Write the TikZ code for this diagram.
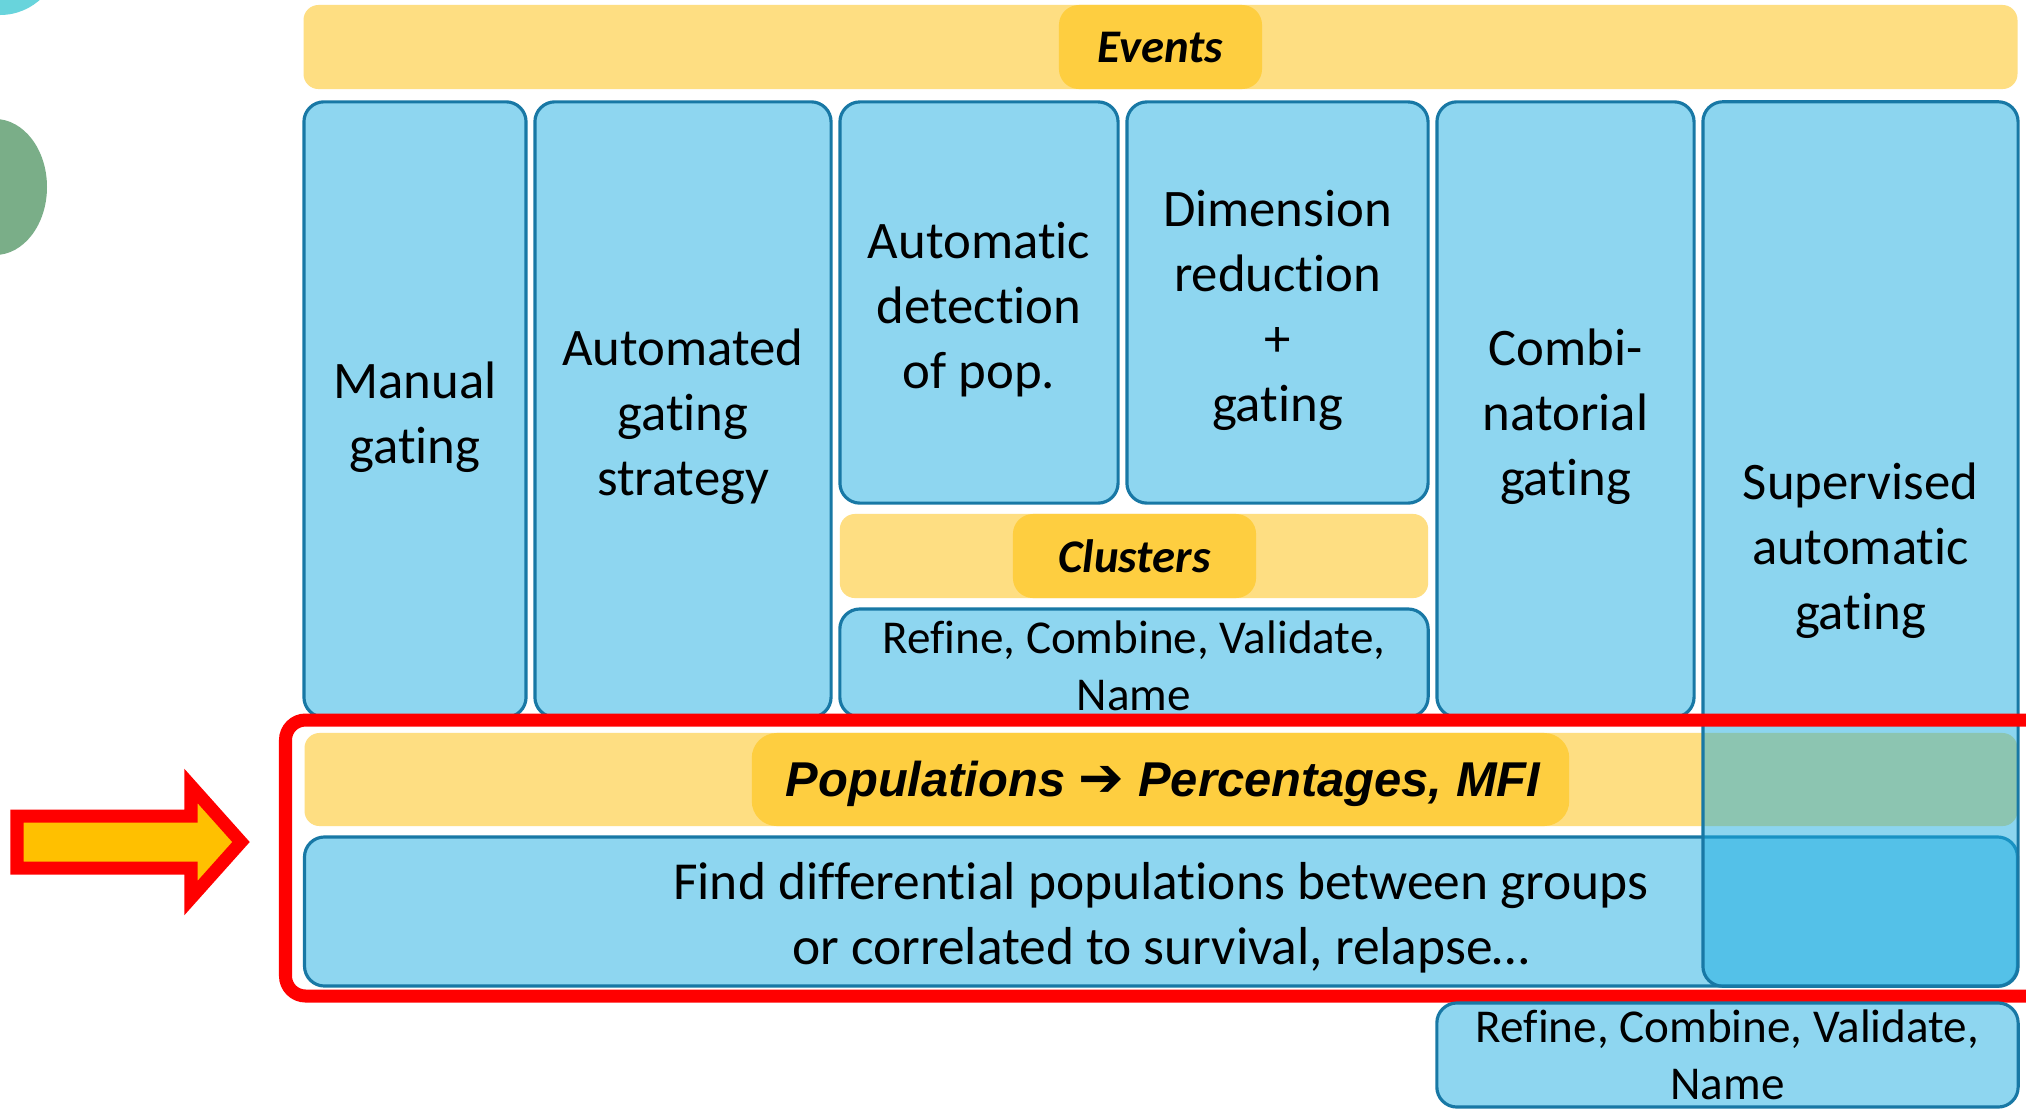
\documentclass[tikz,border=0pt]{standalone}
\usepackage{fontspec}
\setmainfont{Carlito}[Ligatures=NoCommon]
\newfontfamily\popfont{Liberation Sans}
\newfontfamily\arrfont{DejaVu Sans}
\definecolor{blueL}{RGB}{142,214,240}
\definecolor{bordc}{RGB}{24,120,165}
\definecolor{yelL}{RGB}{254,222,130}
\definecolor{yelD}{RGB}{254,206,64}
\definecolor{supc}{RGB}{27,173,225}
\definecolor{tealc}{RGB}{104,212,220}
\definecolor{greenc}{RGB}{122,174,136}
\definecolor{arrfill}{RGB}{255,192,0}
\definecolor{framered}{RGB}{255,0,0}
\begin{document}
\begin{tikzpicture}[x=0.01cm,y=-0.01cm,
  bluebox/.style={draw=bordc, line width=0.9pt, fill=blueL, rounded corners=0.2cm, inner sep=0pt},
  bigtxt/.style={align=center, inner sep=0pt, font=\fontsize{15pt}{18.5pt}\selectfont},
  smalltxt/.style={align=center, inner sep=0pt, font=\fontsize{13.4pt}{16.2pt}\selectfont},
  yelbar/.style={fill=yelL, rounded corners=0.15cm, inner sep=0pt},
  yeltag/.style={fill=yelD, rounded corners=0.2cm, inner sep=0pt,
    font=\fontsize{13.3pt}{16pt}\selectfont\bfseries\itshape},
  poptag/.style={fill=yelD, rounded corners=0.25cm, inner sep=0pt},
  poptxt/.style={inner sep=0pt, font=\fontsize{13.9pt}{16pt}\selectfont\popfont\bfseries\itshape},
  supbox/.style={bluebox, fill=supc, fill opacity=0.5, draw opacity=1}
]
\useasboundingbox (0,0) rectangle (2026,1108);
\fill[white] (0,0) rectangle (2026,1108);

% decorative circles
\fill[tealc] (0,-45) circle [radius=60];
\fill[greenc] (-5,187) ellipse [x radius=52, y radius=68];

% Events
\node[yelbar, minimum width=17.13cm, minimum height=0.84cm] (evbar) at (1160.5,47) {};
\node[yeltag, minimum width=2.03cm, minimum height=0.84cm] (events) at (1160.5,47) {Events};

% columns
\node[bluebox, minimum width=2.22cm, minimum height=6.15cm] (manual) at (415,409.5) {};
\node[bigtxt] (manual-t) at (415,417) {Manual\\gating};
\node[bluebox, minimum width=2.96cm, minimum height=6.15cm] (autogate) at (683,409.5) {};
\node[bigtxt] (autogate-t) at (683,417) {Automated\\gating\\strategy};
\node[bluebox, minimum width=2.78cm, minimum height=4.01cm] (autodet) at (979,302.5) {};
\node[bigtxt] (autodet-t) at (979,310) {Automatic\\detection\\of pop.};
\node[bluebox, minimum width=3.01cm, minimum height=4.01cm] (dimred) at (1277.5,302.5) {};
\node[bigtxt] (dimred-t) at (1277.5,310) {Dimension\\reduction\\+\\gating};
\node[bluebox, minimum width=2.57cm, minimum height=6.15cm] (combi) at (1565.5,409.5) {};
\node[bigtxt] (combi-t) at (1565.5,417) {Combi-\\natorial\\gating};

% Clusters
\node[yelbar, minimum width=5.88cm, minimum height=0.84cm] (clbar) at (1134,556) {};
\node[yeltag, minimum width=2.43cm, minimum height=0.84cm] (clusters) at (1134.5,556) {Clusters};
\node[bluebox, minimum width=5.88cm, minimum height=1.08cm] (refmid) at (1134,663) {};
\node[smalltxt] (refmid-t) at (1134,666) {Refine, Combine, Validate,\\Name};

% Populations
\node[yelbar, minimum width=17.12cm, minimum height=0.93cm] (popbar) at (1161,779.5) {};
\node[poptag, minimum width=8.17cm, minimum height=0.93cm] (pop) at (1160.5,779.5) {};
\node[poptxt] (pop-t) at (1163,784) {Populations {\arrfont\bfseries\fontsize{15.5pt}{16pt}\selectfont ➔} Percentages, MFI};
\node[bluebox, minimum width=17.12cm, minimum height=1.49cm] (find) at (1161,911.5) {};
\node[bigtxt, font=\fontsize{15.2pt}{18.5pt}\selectfont] (find-t) at (1161,918) {Find differential populations between groups\\or correlated to survival, relapse…};

% supervised column (translucent, on top)
\node[supbox, minimum width=3.15cm, minimum height=8.84cm] (superv) at (1860.5,544) {};
\node[bigtxt] (superv-t) at (1860.5,551) {Supervised\\automatic\\gating};

% red frame
\draw[framered, line width=3.7pt, rounded corners=0.2cm] (285.5,720) rectangle (2060,996);

% bottom refine box
\node[bluebox, minimum width=5.81cm, minimum height=1.04cm] (refbot) at (1727.5,1055) {};
\node[smalltxt] (refbot-t) at (1727.5,1055) {Refine, Combine, Validate,\\Name};

% big arrow
\draw[framered, fill=arrfill, line width=3.7pt, line join=miter]
  (17,816) -- (191,816) -- (191,786) -- (241,842) -- (191,898) -- (191,868) -- (17,868) -- cycle;
\end{tikzpicture}
\end{document}
